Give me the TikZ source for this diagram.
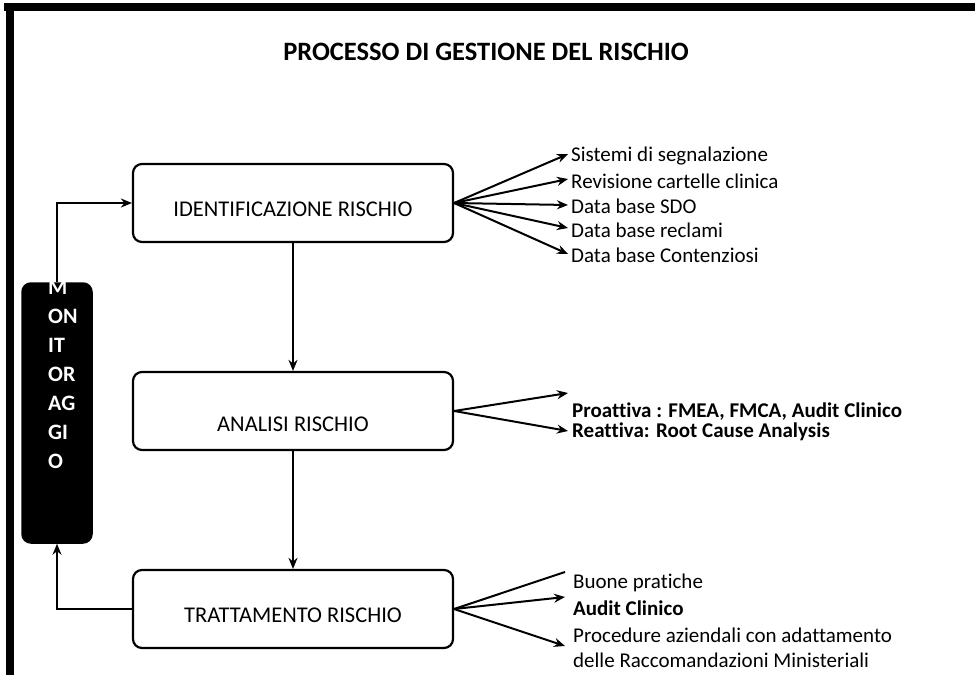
\documentclass[tikz,border=0pt]{standalone}
\usepackage{fontspec}
\setmainfont{Carlito}[Ligatures=NoCommon]
\usetikzlibrary{arrows.meta,calc,positioning}
\definecolor{rkink}{HTML}{000000}
\definecolor{rkpaper}{HTML}{FFFFFF}
\newcommand{\rktitlefont}{\fontsize{26.5}{30}\selectfont\bfseries}
\newcommand{\rkboxfont}{\fontsize{22.5}{26}\selectfont}
\newcommand{\rklistfont}{\fontsize{21}{25}\selectfont}
\newcommand{\rkmonfont}{\fontsize{22}{29}\selectfont\bfseries}
\tikzset{
  rk step/.style={draw=rkink, line width=2.2pt, rounded corners=9pt, fill=rkpaper,
    minimum width=320pt, minimum height=78pt, align=center, font=\rkboxfont, text=rkink,
    text height=26.5pt, text depth=0pt},
  rk monitor/.style={draw=rkink, line width=1.5pt, rounded corners=9pt, fill=rkink,
    minimum width=70pt, minimum height=260pt},
  rk montext/.style={anchor=north west, inner sep=0pt, align=left, font=\rkmonfont, text=rkpaper},
  rk item/.style={anchor=west, inner sep=0pt, align=left, font=\rklistfont, text=rkink},
  rk title/.style={font=\rktitlefont, text=rkink},
  rk arrow/.style={-{Stealth[length=11pt,width=9pt]}, line width=2pt, draw=rkink},
  rk line/.style={line width=2pt, draw=rkink},
  rk frame/.style={line width=8pt, draw=rkink}
}
\begin{document}
\begin{tikzpicture}[x=1pt, y=-1pt]
  \useasboundingbox[fill=rkpaper] (0,0) rectangle (975,675);
  \draw[rk frame] (4,7) -- (975,7);
  \draw[rk frame] (10,3) -- (10,675);
  \node[rk title] (title) at (486,52) {PROCESSO DI GESTIONE DEL RISCHIO};

  \node[rk step] (ident) at (293,203) {IDENTIFICAZIONE RISCHIO};
  \node[rk step, text height=40pt] (anal) at (293,411) {ANALISI RISCHIO};
  \node[rk step] (tratt) at (293,609) {TRATTAMENTO RISCHIO};
  \node[rk monitor] (mon) at (57,413) {};
  \node[rk montext] (montext) at (48,280) {M\\ON\\IT\\OR\\AG\\GI\\O};

  \draw[rk arrow] (ident) -- (anal);
  \draw[rk arrow] (anal) -- (tratt);
  \draw[rk arrow] (tratt.west) -| (mon.south);
  \draw[rk arrow] (mon.north) |- (ident.west);

  \node[rk item] (sis) at (571,156) {Sistemi di segnalazione};
  \node[rk item] (rev) at (571,181) {Revisione cartelle clinica};
  \node[rk item] (sdo) at (571,206) {Data base SDO};
  \node[rk item] (recl) at (571,230) {Data base reclami};
  \node[rk item] (cont) at (571,255) {Data base Contenziosi};
  \foreach \dst/\dy in {sis/2, rev/2, sdo/1, recl/2, cont/1}
    \draw[rk arrow] (ident.east) -- ([xshift=-3pt, yshift=\dy pt]\dst.west);

  \node[rk item, font=\rklistfont\bfseries] (pro) at (572,412) {Proattiva : FMEA, FMCA, Audit Clinico};
  \node[rk item, font=\rklistfont\bfseries] (rea) at (572,432) {Reattiva: Root Cause Analysis};
  \draw[rk arrow] (anal.east) -- ([xshift=-4pt, yshift=19pt]pro.west);
  \draw[rk arrow] (anal.east) -- ([xshift=-4pt, yshift=1pt]rea.west);

  \node[rk item] (buone) at (573,583) {Buone pratiche};
  \node[rk item, font=\rklistfont\bfseries] (audit) at (573,608) {Audit Clinico};
  \node[rk item] (proc) at (573,648) {Procedure aziendali con adattamento\\delle Raccomandazioni Ministeriali};
  \draw[rk line] (tratt.east) -- ([xshift=-8pt, yshift=11pt]buone.west);
  \draw[rk arrow] (tratt.east) -- ([xshift=-8pt, yshift=11pt]audit.west);
  \draw[rk arrow] (tratt.east) -- ([xshift=-8pt, yshift=2pt]proc.west);
\end{tikzpicture}
\end{document}
